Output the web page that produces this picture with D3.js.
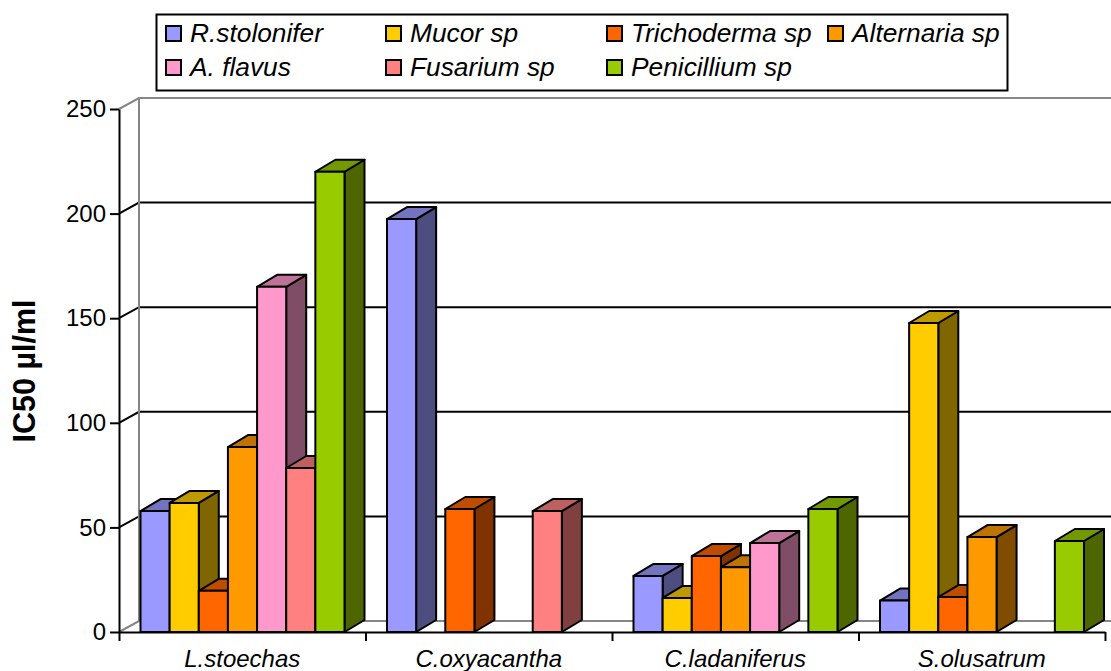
<!DOCTYPE html>
<html>
<head>
<meta charset="utf-8">
<script src="https://cdn.jsdelivr.net/npm/d3@7"></script>
<style>
html,body{margin:0;padding:0;background:#fff;overflow:hidden}
text{font-family:"Liberation Sans",Arial,sans-serif;fill:#000}
</style>
</head>
<body>
<svg id="chart" width="1111" height="671"></svg>
<script>
var categories = ["L.stoechas","C.oxyacantha","C.ladaniferus","S.olusatrum"];
var seriesNames = ["R.stolonifer","Mucor sp","Trichoderma sp","Alternaria sp","A. flavus","Fusarium sp","Penicillium sp"];
var seriesColors = ["#9999ff","#ffcc00","#ff6600","#ff9900","#ff99cc","#ff8080","#99cc00"];
var yTicks = [0,50,100,150,200,250];

var rStolonifer = [57.8,197.4,26.8,15];
var mucor = [61.7,null,16.3,147.7];
var trichoderma = [19.7,58.8,36.3,16.7];
var alternaria = [88.4,null,31,45.4];
var aFlavus = [165,null,42.5,null];
var fusarium = [78.4,57.8,null,null];
var penicillium = [220,null,58.8,43.5];
var seriesValues = [rStolonifer,mucor,trichoderma,alternaria,aFlavus,fusarium,penicillium];

var wallDepth = {x:20,y:-11};
var barDepth = {x:20,y:-12};
var svg = d3.select("#chart");

var y = d3.scaleLinear().domain([0,250]).range([632,109]);
var x = d3.scaleBand().domain(categories).range([119,1105]);
var edge = d3.scaleLinear().domain([0,4]).range([119,1105]);
var inner = d3.scaleBand().domain(d3.range(7)).range([21.5,225.5]);

// walls
var walls = svg.append("g");
yTicks.forEach(function(t)
{
    walls.append("path")
        .attr("d","M119,"+y(t)+"l"+wallDepth.x+","+wallDepth.y+"H1111")
        .attr("fill","none")
        .attr("stroke",(t==0 || t==250) ? "#868686" : "#000")
        .attr("stroke-width",2);
});
walls.append("line")
    .attr("x1",119+wallDepth.x).attr("x2",119+wallDepth.x)
    .attr("y1",y(250)+wallDepth.y).attr("y2",y(0)+wallDepth.y)
    .attr("stroke","#868686").attr("stroke-width",2);

// axes
var yAxis = svg.append("g")
    .attr("transform","translate(119,0)")
    .call(d3.axisLeft(y).tickValues(yTicks).tickSize(9).tickSizeOuter(0).tickPadding(4));
var xAxis = svg.append("g")
    .attr("transform","translate(0,632)")
    .call(d3.axisBottom(edge).tickValues([0,1,2,3,4]).tickSize(9).tickSizeOuter(0).tickFormat(""));
[yAxis,xAxis].forEach(function(a)
{
    a.selectAll("path,line").attr("stroke","#000").attr("stroke-width",2);
});
yAxis.selectAll("text").attr("font-size",24).attr("fill","#000");

svg.append("g")
    .attr("transform","translate(0,642)")
    .call(d3.axisBottom(x).tickSize(0).tickPadding(8))
    .call(function(g){g.select(".domain").remove();})
    .selectAll("text")
    .attr("font-size",24).attr("font-style","italic").attr("fill","#000");

// bars, left to right so that each one covers the side of the last
var sideColor = function(c){var r=d3.rgb(c);return d3.rgb(r.r*.5,r.g*.5,r.b*.5).formatHex();};
var topColor = function(c){var r=d3.rgb(c);return d3.rgb(r.r*.75,r.g*.75,r.b*.75).formatHex();};

var barsData = [];
categories.forEach(function(cat,ci)
{
    seriesNames.forEach(function(name,si)
    {
        if(seriesValues[si][ci]!=null)
        {
            barsData.push({cat:cat,s:si,v:seriesValues[si][ci]});
        }
    });
});

var bars = svg.append("g").selectAll("g")
    .data(barsData)
    .enter()
    .append("g")
    .attr("stroke","#000").attr("stroke-width",2).attr("stroke-linejoin","round");

bars.append("path")
    .attr("fill",function(d){return sideColor(seriesColors[d.s]);})
    .attr("d",function(d)
    {
        var r = x(d.cat)+inner(d.s)+inner.bandwidth();
        return "M"+r+","+y(0)+"l"+barDepth.x+","+barDepth.y+"V"+(y(d.v)+barDepth.y)+"l"+(-barDepth.x)+","+(-barDepth.y)+"Z";
    });
bars.append("path")
    .attr("fill",function(d){return topColor(seriesColors[d.s]);})
    .attr("d",function(d)
    {
        var l = x(d.cat)+inner(d.s);
        return "M"+l+","+y(d.v)+"l"+barDepth.x+","+barDepth.y+"h"+inner.bandwidth()+"l"+(-barDepth.x)+","+(-barDepth.y)+"Z";
    });
bars.append("rect")
    .attr("x",function(d){return x(d.cat)+inner(d.s);})
    .attr("y",function(d){return y(d.v);})
    .attr("width",inner.bandwidth())
    .attr("height",function(d){return y(0)-y(d.v);})
    .attr("fill",function(d){return seriesColors[d.s];});

// y title
svg.append("text")
    .attr("transform","translate(35,371) rotate(-90)")
    .attr("text-anchor","middle")
    .attr("font-size",30.5).attr("font-weight","bold")
    .text("IC50 µl/ml");

// legend
svg.append("rect")
    .attr("x",156.5).attr("y",14.5).attr("width",851).attr("height",76)
    .attr("fill","#fff").attr("stroke","#000").attr("stroke-width",2);

var legendX = [166,386,607,828];
var legendY = [34,68];
var legendRows = [[0,1,2,3],[4,5,6]];
legendRows.forEach(function(row,ri)
{
    row.forEach(function(si,ci)
    {
        svg.append("rect")
            .attr("x",legendX[ci]).attr("y",legendY[ri]-8)
            .attr("width",15).attr("height",15)
            .attr("fill",seriesColors[si])
            .attr("stroke","#000").attr("stroke-width",2);
        svg.append("text")
            .attr("x",legendX[ci]+24).attr("y",legendY[ri]+8)
            .attr("font-size",26.3).attr("font-style","italic")
            .text(seriesNames[si]);
    });
});
</script>
</body>
</html>
